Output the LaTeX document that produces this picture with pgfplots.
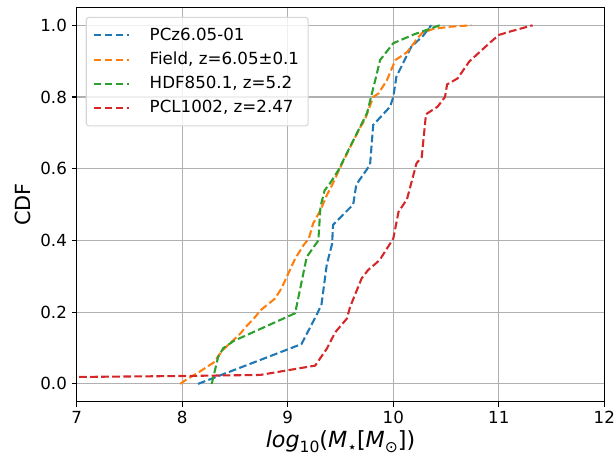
\documentclass[border=0pt]{standalone}
\usepackage{fontspec}
\setmainfont{DejaVu Sans}
\usepackage{pgfplots}
\pgfplotsset{compat=1.18}
\definecolor{tabblue}{HTML}{1F77B4}
\definecolor{taborange}{HTML}{FF7F0E}
\definecolor{tabgreen}{HTML}{2CA02C}
\definecolor{tabred}{HTML}{D62728}
\definecolor{gridgray}{HTML}{B0B0B0}
\definecolor{legendgray}{HTML}{D6D6D6}
\newcommand\sub[1]{\raisebox{-0.22em}{\fontsize{11.2}{12}\selectfont #1}}
\begin{document}
\begin{tikzpicture}
\begin{axis}[
  scale only axis,
  width=379.9pt, height=284pt,
  xmin=7, xmax=12, ymin=-0.05, ymax=1.05,
  xtick={7,8,9,10,11,12},
  ytick={0,0.2,0.4,0.6,0.8,1.0},
  yticklabel style={/pgf/number format/.cd, fixed, fixed zerofill, precision=1},
  /pgf/number format/assume math mode=true,
  tick label style={font=\fontsize{12}{14}\selectfont},
  grid=major,
  major grid style={color=gridgray, line width=0.8pt},
  axis line style={line width=0.8pt},
  tick style={line width=0.8pt, black},
  tick align=outside, major tick length=3.5pt,
  tick pos=left,
  xlabel={\textit{log}\sub{10}(\textit{M}\sub{⋆}[\textit{M}\sub{⊙}])},
  ylabel={CDF},
  xlabel style={font=\fontsize{16}{19}\selectfont, yshift=2.5pt},
  ylabel style={font=\fontsize{15}{18}\selectfont},
  legend cell align=left,
  legend style={at={(0,1)}, anchor=north west, xshift=6.5pt, yshift=-6.8pt,
    draw=legendgray, line width=0.8pt, rounded corners=2pt, fill=white, fill opacity=0.8, text opacity=1,
    font=\fontsize{12}{14}\selectfont, row sep=2.9pt, inner xsep=4.5pt, inner ysep=5.8pt,
    /tikz/every odd column/.append style={column sep=12.5pt}},
  legend image code/.code={\draw[#1] (0pt,0pt) -- (25.2pt,0pt);},
  every axis plot/.append style={line width=1.5pt, dash pattern=on 5.55pt off 2.4pt},
]
\addplot[tabblue] coordinates {
(8.15,0) (9.13,0.111) (9.28,0.196) (9.32,0.222) (9.37,0.333) (9.42,0.39)
(9.43,0.444) (9.62,0.5) (9.65,0.556) (9.78,0.611) (9.81,0.722) (9.97,0.773)
(10.0,0.80) (10.03,0.857) (10.17,0.94) (10.28,0.97) (10.36,1.0)};
\addlegendentry{PCz6.05-01}
\addplot[taborange] coordinates {
(7.98,0) (8.03,0.01) (8.17,0.035) (8.30,0.06) (8.38,0.093) (8.55,0.14)
(8.6,0.158) (8.69,0.186) (8.74,0.205) (8.88,0.238) (8.94,0.266) (8.99,0.298)
(9.07,0.349) (9.15,0.387) (9.2,0.405) (9.24,0.447) (9.31,0.484) (9.37,0.526)
(9.42,0.554) (9.50,0.605) (9.61,0.671) (9.69,0.717) (9.73,0.736) (9.81,0.80)
(9.86,0.81) (9.94,0.847) (10.02,0.903) (10.13,0.925) (10.22,0.96) (10.27,0.978)
(10.38,0.99) (10.54,0.996) (10.74,1.0)};
\addlegendentry{Field, z=6.05±0.1}
\addplot[tabgreen] coordinates {
(8.28,0) (8.34,0.075) (8.39,0.10) (8.49,0.12) (9.07,0.197) (9.18,0.354)
(9.29,0.40) (9.31,0.494) (9.35,0.54) (9.40,0.559) (9.48,0.596) (9.59,0.661)
(9.75,0.754) (9.83,0.848) (9.875,0.903) (10.0,0.95) (10.2,0.975) (10.44,1.0)};
\addlegendentry{HDF850.1, z=5.2}
\addplot[tabred] coordinates {
(6.5,0.018) (8.0,0.022) (8.74,0.025) (9.26,0.051) (9.37,0.098) (9.45,0.144)
(9.56,0.182) (9.59,0.214) (9.70,0.294) (9.76,0.317) (9.87,0.345) (10.0,0.405)
(10.05,0.48) (10.13,0.515) (10.22,0.615) (10.27,0.633) (10.31,0.752) (10.42,0.773)
(10.49,0.80) (10.51,0.835) (10.61,0.852) (10.72,0.899) (10.91,0.95) (11.0,0.973)
(11.10,0.982) (11.32,1.0)};
\addlegendentry{PCL1002, z=2.47}
\end{axis}
\pgfresetboundingbox
\path[use as bounding box] ([shift={(-55.2pt,-39.8pt)}]current axis.south west) rectangle ([shift={(8.4pt,5.3pt)}]current axis.north east);
\end{tikzpicture}
\end{document}
